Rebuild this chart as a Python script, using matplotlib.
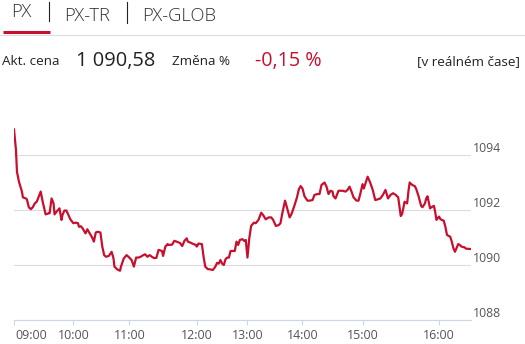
import numpy as np
import matplotlib
matplotlib.use("Agg")
import matplotlib.pyplot as plt
from matplotlib.lines import Line2D
import matplotlib.transforms as mtransforms

plt.rcParams['font.family'] = ['Open Sans', 'DejaVu Sans']

# ---- data: minutes after 09:00, PX index value ----
minutes = [0, 2, 3, 5, 8, 9, 12, 13, 15, 17, 19, 21, 23, 25, 27, 29, 31, 32, 35, 36, 38, 40, 41, 43, 46, 48, 49, 51, 53, 55, 57,
           60, 63, 65, 66, 68, 70, 73, 75, 77, 80, 82, 84, 86, 89, 91, 93, 95, 98, 101, 103, 104, 107, 110, 111, 114, 117, 119,
           122, 124, 126, 128, 130, 132, 134, 136, 138, 140, 142, 144, 146, 149, 150, 152, 154, 155, 158, 160, 162, 165, 167, 169, 171, 172, 174, 176, 179,
           180, 182, 186, 188, 190, 193, 196, 199, 202, 204, 206, 208, 210, 212, 214, 216, 218, 220, 223, 225, 227, 229, 231, 234, 236, 238,
           240, 242, 244, 247, 249, 252, 255, 257, 260, 263, 266, 268, 271, 274, 276, 278, 281, 283, 286, 288, 291, 294, 296, 298,
           300, 302, 305, 307, 310, 312, 315, 317, 319, 322, 324, 326, 328, 330, 331, 333, 336, 338, 340, 343, 345, 347, 349, 351, 354, 356, 358,
           360, 361, 363, 364, 366, 368, 370, 372, 374, 376, 378, 379, 380, 382, 384, 386, 388, 389, 390, 391, 392, 393, 395, 396, 397, 399,
           401, 402, 404, 406, 407, 409, 410, 411, 413, 414, 416, 417, 418, 420,
           421, 423, 424, 425, 427, 428, 429, 430, 432, 433, 434, 436, 437, 438, 440]
values = [1094.93, 1094.18, 1093.39, 1093.03, 1092.67, 1092.46, 1092.42, 1092.39, 1092.10, 1092.03, 1092.10, 1092.24, 1092.30, 1092.48, 1092.67, 1092.30,
          1092.00, 1091.84, 1091.88, 1091.88, 1092.42, 1092.24, 1091.84, 1091.94, 1092.06, 1091.64, 1091.82, 1091.98, 1091.98, 1091.82, 1091.66,
          1091.52, 1091.54, 1091.52, 1091.39, 1091.41, 1091.33, 1091.15, 1091.30, 1091.18, 1091.01, 1090.85, 1091.18, 1091.21, 1091.18, 1090.67,
          1090.36, 1090.30, 1090.33, 1090.48, 1090.24, 1089.94, 1089.84, 1089.79, 1089.94, 1090.24, 1090.36, 1090.30,
          1090.18, 1089.94, 1090.27, 1090.27, 1090.30, 1090.35, 1090.39, 1090.30, 1090.36, 1090.30, 1090.25, 1090.26, 1090.55, 1090.51, 1090.33,
          1090.67, 1090.76, 1090.73, 1090.74, 1090.88, 1090.85, 1090.80, 1090.69, 1090.88, 1090.97, 1090.85, 1090.82, 1090.78, 1090.73,
          1090.67, 1090.78, 1090.76, 1090.30, 1089.94, 1089.85, 1089.84, 1089.82, 1089.94, 1090.08, 1090.05, 1090.18, 1090.05, 1090.00, 1090.21,
          1090.27, 1090.27, 1090.51, 1090.51, 1090.51, 1090.85, 1090.73, 1090.91, 1090.94, 1090.88, 1090.91,
          1090.27, 1090.97, 1091.42, 1091.54, 1091.52, 1091.64, 1091.90, 1091.82, 1091.66, 1091.73, 1091.73, 1091.64, 1091.42, 1091.45, 1091.52,
          1091.88, 1092.34, 1092.10, 1091.73, 1091.85, 1092.14, 1092.46, 1092.75, 1092.87,
          1092.78, 1092.50, 1092.34, 1092.34, 1092.36, 1092.55, 1092.58, 1092.58, 1092.91, 1093.00, 1092.85, 1092.58, 1092.70, 1092.67, 1092.50,
          1092.42, 1092.70, 1092.70, 1092.70, 1092.67, 1092.73, 1092.85, 1092.67, 1092.46, 1092.34, 1092.34, 1092.62,
          1092.94, 1092.78, 1093.07, 1093.21, 1093.00, 1092.73, 1092.36, 1092.39, 1092.42, 1092.55, 1092.73, 1092.58, 1092.42, 1092.55, 1092.61,
          1092.55, 1092.46, 1092.12, 1091.78, 1091.85, 1092.06, 1092.30, 1092.24, 1092.67, 1093.00, 1092.91, 1092.87, 1092.78, 1092.50, 1092.15,
          1092.10, 1092.24, 1092.42, 1092.50, 1092.06, 1092.10, 1092.15, 1091.94, 1091.64, 1091.76,
          1091.66, 1091.61, 1091.39, 1091.09, 1091.03, 1090.85, 1090.61, 1090.48, 1090.76, 1090.73, 1090.67, 1090.64, 1090.59, 1090.59, 1090.58]

tick_minutes = [0, 60, 120, 180, 240, 300, 360, 420]
tick_labels = ["09:00", "10:00", "11:00", "12:00", "13:00", "14:00", "15:00", "16:00"]
y_ticks = [1088, 1090, 1092, 1094]
y_labels = ["1088", "1090", "1092", "1094"]

index_name = ["PX", "PX-TR", "PX-GLOB"]
last_price = "1 090,58"
change_pct = "-0,15 %"

# ---- ordinal-like time axis (hours compressed by trading density) ----
anchor_t = np.array([0, 60, 120, 180, 240, 300, 360, 420, 440], dtype=float)
seg_w = np.array([59.3, 56.0, 67.4, 50.6, 55.0, 60.0, 76.4, 32.0])
anchor_p = np.concatenate([[0.0], np.cumsum(seg_w)])

def fwd(t):
    return np.interp(t, anchor_t, anchor_p)

def inv(p):
    return np.interp(p, anchor_p, anchor_t)

W, H = 525, 344
fig = plt.figure(figsize=(W / 100, H / 100), dpi=100)

def fx(x):
    return x / W

def fy(y):
    return 1 - y / H

ax_left, ax_right, ax_bottom, ax_top = 14, 471, 320, 113.75
ax = fig.add_axes([fx(ax_left), fy(ax_bottom), (ax_right - ax_left) / W, (ax_bottom - ax_top) / H])
ax.set_xscale('function', functions=(fwd, inv))

red = '#c8102e'
ax.plot(minutes, values, color=red, lw=1.6, solid_joinstyle='round', zorder=3)

ax.set_xlim(0, 440)
ax.set_ylim(1088, 1095.5)

for s in ['top', 'left', 'right']:
    ax.spines[s].set_visible(False)
ax.spines['bottom'].set_color('#ccd6eb')
ax.spines['bottom'].set_linewidth(0.8)

ax.set_yticks(y_ticks)
ax.set_yticklabels(y_labels)
ax.yaxis.tick_right()
ax.tick_params(axis='y', length=0, pad=1.2, labelsize=8.8, labelcolor='#555555')
for lbl in ax.get_yticklabels():
    lbl.set_va('bottom')
ax.grid(axis='y', color='#dcdcdc', lw=0.8)
ax.set_axisbelow(True)

ax.set_xticks(tick_minutes)
ax.set_xticklabels(tick_labels)
ax.xaxis.set_minor_locator(matplotlib.ticker.NullLocator())
ax.tick_params(axis='x', length=3.6, width=0.8, color='#ccd6eb', pad=3.2, labelsize=8.9, labelcolor='#555555')
xl = ax.get_xticklabels()
xl[0].set_ha('left')
xl[0].set_transform(xl[0].get_transform() + mtransforms.ScaledTranslation(1 / 100, 0, fig.dpi_scale_trans))

# ---- header ----
tab_color = '#333333'
fig.text(fx(11), fy(17.3), index_name[0], fontsize=13.2, color=tab_color, ha='left', va='baseline', fontweight='light')
fig.text(fx(64.5), fy(20.7), index_name[1], fontsize=13.2, color=tab_color, ha='left', va='baseline', fontweight='light')
fig.text(fx(142), fy(20.7), index_name[2], fontsize=13.2, color=tab_color, ha='left', va='baseline', fontweight='light')

fig.add_artist(Line2D([fx(49.3), fx(49.3)], [fy(2), fy(21)], color='#222222', lw=0.8))
fig.add_artist(Line2D([fx(126.7), fx(126.7)], [fy(2), fy(23)], color='#222222', lw=0.8))
fig.add_artist(Line2D([fx(2.7), fx(50)], [fy(31.7), fy(31.7)], color=red, lw=2.2, solid_capstyle='butt'))
fig.add_artist(Line2D([fx(0), fx(525)], [fy(34.5), fy(34.5)], color='#dddddd', lw=0.8))

small = 9.7
fig.text(fx(1.5), fy(65), "Akt. cena", fontsize=small, color='#222222', ha='left', va='baseline')
fig.text(fx(76.5), fy(66), last_price, fontsize=14.4, color='#222222', ha='left', va='baseline')
fig.text(fx(172.5), fy(65), "Změna %", fontsize=small, color='#222222', ha='left', va='baseline')
fig.text(fx(255), fy(66), change_pct, fontsize=14.2, color=red, ha='left', va='baseline')
fig.text(fx(520), fy(65), "[v reálném čase]", fontsize=small, color='#222222', ha='right', va='baseline')

fig.savefig("out.png", dpi=100)
